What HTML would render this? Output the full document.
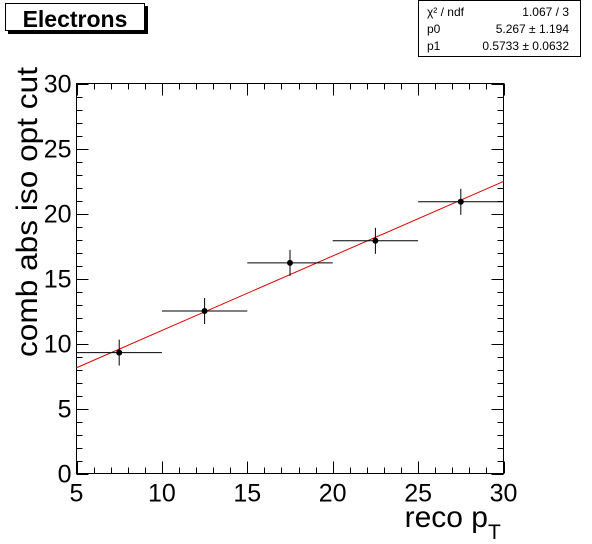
<!DOCTYPE html>
<html><head><meta charset="utf-8"><style>
body{margin:0;background:#fff}
svg{display:block;font-family:"Liberation Sans",Arial,sans-serif}
</style></head><body>
<svg id="c" width="592" height="544">
<g id="g"></g>
</svg>
<script>
const xCenters=[7.5,12.5,17.5,22.5,27.5];
const xHalfWidths=[2.5,2.5,2.5,2.5,2.5];
const yValues=[9.3,12.5,16.2,17.9,20.9];
const yErrors=[1.0,1.0,1.0,1.0,1.0];
const fitP0=5.267, fitP1=0.5733;
const xTicks=[5,10,15,20,25,30];
const yTicks=[0,5,10,15,20,25,30];
const X0=76.5,X1=503.5,Y0=473.5,Y1=83.5;
const sx=v=>X0+(v-5)/25*(X1-X0);
const sy=v=>Y0-(v/30)*(Y0-Y1);
const NS='http://www.w3.org/2000/svg';
const g=document.getElementById('g');
function el(t,a,txt){const e=document.createElementNS(NS,t);for(const k in a)e.setAttribute(k,a[k]);if(txt!=null)e.textContent=txt;g.appendChild(e);return e;}
let e;
e=el('rect',{x:X0,y:Y1,width:X1-X0,height:Y0-Y1,fill:'none',stroke:'#000','stroke-width':1});

for(let v=5;v<=30;v+=1){const maj=v%5===0;const L=maj?12:6;const x=Math.round(sx(v))+0.5;
e=el('line',{x1:x,x2:x,y1:Y0,y2:Y0-L,stroke:'#000'});
e=el('line',{x1:x,x2:x,y1:Y1,y2:Y1+L,stroke:'#000'});}
for(let v=0;v<=30;v+=1){const maj=v%5===0;const L=maj?12:6;const y=Math.round(sy(v))+0.5;
e=el('line',{x1:X0,x2:X0+L,y1:y,y2:y,stroke:'#000'});
e=el('line',{x1:X1,x2:X1-L,y1:y,y2:y,stroke:'#000'});}
xTicks.forEach(v=>{e=el('text',{x:sx(v),y:Y0+28,'font-size':25,'text-anchor':'middle'},String(v));
});
yTicks.forEach(v=>{e=el('text',{x:X0-5,y:sy(v)+9,'font-size':25,'text-anchor':'end'},String(v));
});
e=el('line',{x1:sx(5),y1:sy(fitP0+fitP1*5),x2:sx(30),y2:sy(fitP0+fitP1*30),stroke:'#e00000','stroke-width':1});

xCenters.forEach((xc,i)=>{const cx=sx(xc),cy=sy(yValues[i]);
e=el('line',{x1:sx(xc-xHalfWidths[i]),x2:sx(xc+xHalfWidths[i]),y1:cy,y2:cy,stroke:'#000'});
e=el('line',{x1:cx,x2:cx,y1:sy(yValues[i]+yErrors[i]),y2:sy(yValues[i]-yErrors[i]),stroke:'#000'});
e=el('circle',{cx:cx,cy:cy,r:3,fill:'#000'});});
e=el('text',{x:0,y:0,'font-size':30,'text-anchor':'middle',textLength:290,lengthAdjust:'spacingAndGlyphs',transform:'translate(37,212) rotate(-90)'},'comb abs iso opt cut');

e=el('text',{x:488,y:527,'font-size':30,'text-anchor':'end'},'reco p');

e=el('text',{x:488,y:539,'font-size':21},'T');

e=el('rect',{x:8,y:6,width:140,height:28,fill:'#000'});
e=el('rect',{x:5.5,y:3.5,width:139,height:27,fill:'#fff',stroke:'#000'});
e=el('text',{x:75,y:27,'font-size':23,'font-weight':'bold','text-anchor':'middle'},'Electrons');

e=el('rect',{x:418.5,y:0.5,width:162,height:56,fill:'#fff',stroke:'#000'});
const rows=[['χ² / ndf','1.067 / 3'],['p0','5.267 ± 1.194'],['p1','0.5733 ± 0.0632']];
rows.forEach((r,i)=>{const y=16+i*17;
e=el('text',{x:427,y:y,'font-size':12},r[0]);
e=el('text',{x:569,y:y,'font-size':12,'text-anchor':'end'},r[1]);});
</script>
</body></html>
